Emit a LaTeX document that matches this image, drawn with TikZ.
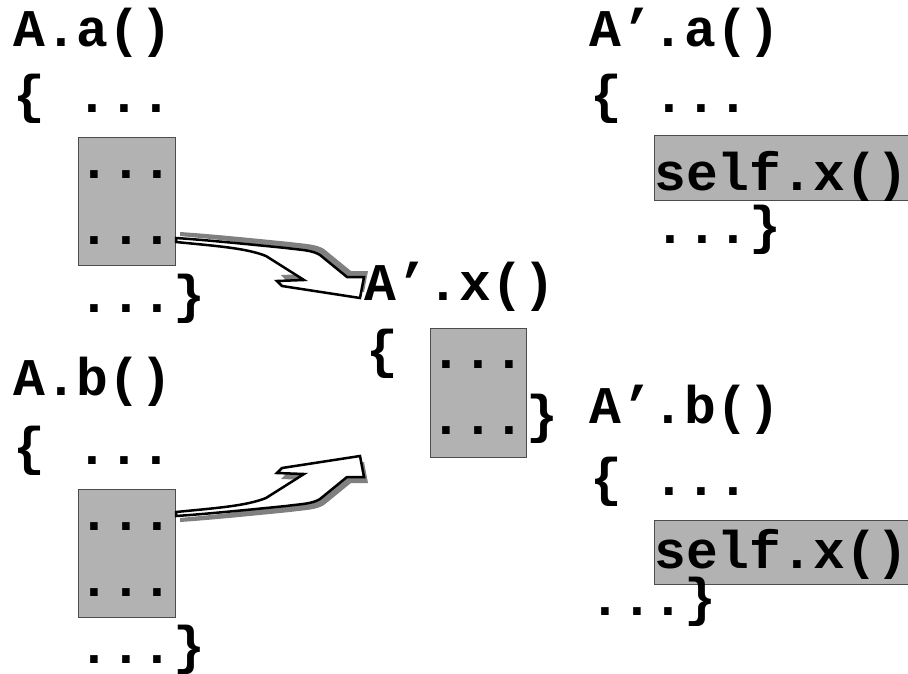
\documentclass[tikz,border=0pt]{standalone}
\usepackage{fontspec}
\newfontfamily\codefont{Liberation Mono}
\newcommand{\callpath}{(0,-2) .. controls (40,-6) and (70,-8) .. (90,-16) -- (128,-40) -- (101,-41) -- (106,-46)
 -- (184,-58) -- (188,-37) -- (171,-37) -- (144,-15) .. controls (136,-10) and (125,-10) .. (110,-8)
 .. controls (70,-4) and (30,0) .. (0,2) -- cycle}
\tikzset{code/.style={font=\codefont\bfseries\fontsize{53}{66}\selectfont,inner sep=0pt,anchor=base west},
 codebox/.style={draw=black!70,fill=black!30,line width=1pt,inner sep=0pt,anchor=north west},
 callarrow/.pic={\fill[black!50,shift={(4,6)}]\callpath;
  \filldraw[draw=black,fill=white,line width=2.5pt,line join=miter]\callpath;}}
\begin{document}
\begin{tikzpicture}[x=1pt,y=-1pt]
\useasboundingbox (0,0) rectangle (908,673);
\clip (0,0) rectangle (908,673);
% grey blocks
\node[codebox,minimum width=97pt,minimum height=128pt](ab) at (78,137){};
\node[codebox,minimum width=97pt,minimum height=128pt](bb) at (78,489){};
\node[codebox,minimum width=96pt,minimum height=129pt](xb) at (430,328){};
\node[codebox,minimum width=258pt,minimum height=65pt](pab) at (654,135){};
\node[codebox,minimum width=258pt,minimum height=64pt](pbb) at (654,520){};
% A.a() and A.b()
\node[code](ah) at (13,46){A.a()};
\node[code](ao) at (13,112){\{ ...};
\node[code](a1) at (78,178){...};
\node[code](a2) at (78,244){...};
\node[code](ac) at (78,312){...\}};
\node[code](bh) at (13,395){A.b()};
\node[code](bo) at (13,464){\{ ...};
\node[code](b1) at (78,530){...};
\node[code](b2) at (78,596){...};
\node[code](bc) at (78,663){...\}};
% A'.x()
\node[code](xh) at (364,300){A’.x()};
\node[code](xo) at (366,367){\{};
\node[code](x1) at (430,368){...};
\node[code](x2) at (430,434){...};
\node[code](xc) at (526,432){\}};
% A'.a() and A'.b()
\node[code](pah) at (589,46){A’.a()};
\node[code](pao) at (590,112){\{ ...};
\node[code](pa1) at (654,190){self.x()};
\node[code](pac) at (654,243){...\}};
\node[code](pbh) at (589,423){A’.b()};
\node[code](pbo) at (590,495){\{ ...};
\node[code](pb1) at (654,568){self.x()};
\node[code](pbc) at (589,615){...\}};
% calls into A'.x()
\pic[yscale=-1] at ([yshift=26pt]ab.south east){callarrow};
\pic at ([yshift=-25pt]bb.north east){callarrow};
\end{tikzpicture}
\end{document}
